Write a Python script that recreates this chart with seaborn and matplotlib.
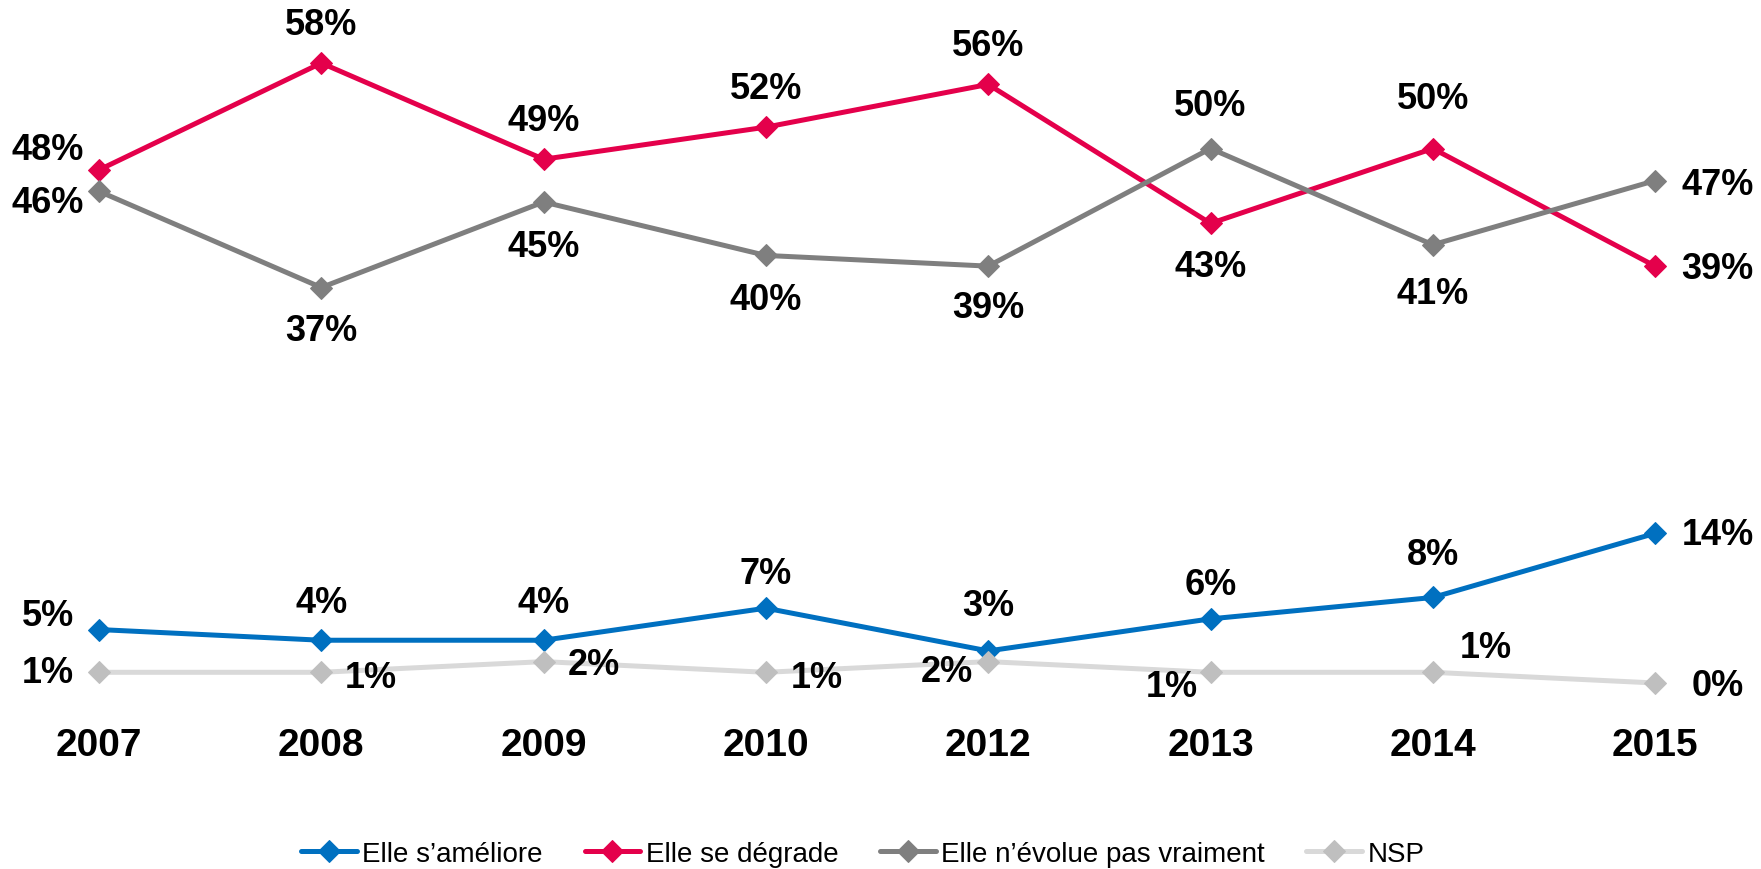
import matplotlib
matplotlib.use("Agg")
import matplotlib.pyplot as plt
import pandas as pd
import seaborn as sns

# ---- data ---------------------------------------------------------------
years = ["2007", "2008", "2009", "2010", "2012", "2013", "2014", "2015"]
ameliore = [5, 4, 4, 7, 3, 6, 8, 14]
degrade = [48, 58, 49, 52, 56, 43, 50, 39]
evolue_pas = [46, 37, 45, 40, 39, 50, 41, 47]
nsp = [1, 1, 2, 1, 2, 1, 1, 0]

series_names = ["Elle s\u2019améliore", "Elle se dégrade", "Elle n\u2019évolue pas vraiment", "NSP"]
series_values = [ameliore, degrade, evolue_pas, nsp]

line_colors = ["#0070C0", "#E4004B", "#7F7F7F", "#D9D9D9"]
marker_colors = ["#0070C0", "#E4004B", "#7F7F7F", "#BFBFBF"]

# label offsets in points (dx, dy) from each point
label_offsets = [
    [(-37, 10), (0, 27), (0, 27), (0, 25), (0, 33), (0, 25), (0, 31), (45, -1)],
    [(-37, 15), (0, 28), (0, 28), (0, 28), (0, 28), (0, -31), (0, 36), (45, -2)],
    [(-37, -8), (0, -31), (0, -32), (0, -32), (0, -30), (0, 31), (0, -35), (45, -3)],
    [(-37, 0), (36, -4), (36, -2), (37, -4), (-30, -7), (-28, -10), (38, 18), (45, -2)],
]

df = pd.concat(
    [pd.DataFrame({"year": years, "value": v, "series": n}) for n, v in zip(series_names, series_values)],
    ignore_index=True,
)

# ---- plot ---------------------------------------------------------------
sns.set_theme(style="white")
plt.rcParams["font.family"] = ["Liberation Sans", "DejaVu Sans"]
plt.rcParams["text.color"] = "black"
plt.rcParams["xtick.color"] = "black"

fig = plt.figure(figsize=(17.61, 8.70), dpi=100)
ax = fig.add_axes([0.01834, 0.2138, 0.9594, 0.7126])

for name, lc, mc in zip(series_names, line_colors, marker_colors):
    sub = df[df["series"] == name]
    sns.lineplot(
        data=sub, x="year", y="value", ax=ax, color=lc, linewidth=3.6,
        marker="D", markersize=11, markerfacecolor=mc, markeredgecolor=mc,
        label=name, clip_on=False, sort=False,
    )

for vals, offs in zip(series_values, label_offsets):
    for i, (v, (dx, dy)) in enumerate(zip(vals, offs)):
        ax.annotate(f"{v}%", (i, v), xytext=(dx, dy), textcoords="offset points",
                    ha="center", va="center", fontsize=26, fontweight="bold", color="black")

ax.set_xlim(-0.3, 7.3)
ax.set_ylim(0, 58)
ax.set_xlabel("")
ax.set_ylabel("")
ax.set_yticks([])
ax.tick_params(axis="x", length=0, pad=32)
for lab in ax.get_xticklabels():
    lab.set_fontsize(28)
    lab.set_fontweight("bold")
    lab.set_color("black")
sns.despine(ax=ax, left=True, bottom=True)

ax.get_legend().remove()
handles, labels = ax.get_legend_handles_labels()
fig.legend(handles, labels, loc="center", bbox_to_anchor=(0.49, 0.017), ncol=4,
           frameon=False, fontsize=20, handlelength=2.0, handletextpad=0.2,
           columnspacing=1.5, labelcolor="black")

fig.savefig("out.png", dpi=100)
